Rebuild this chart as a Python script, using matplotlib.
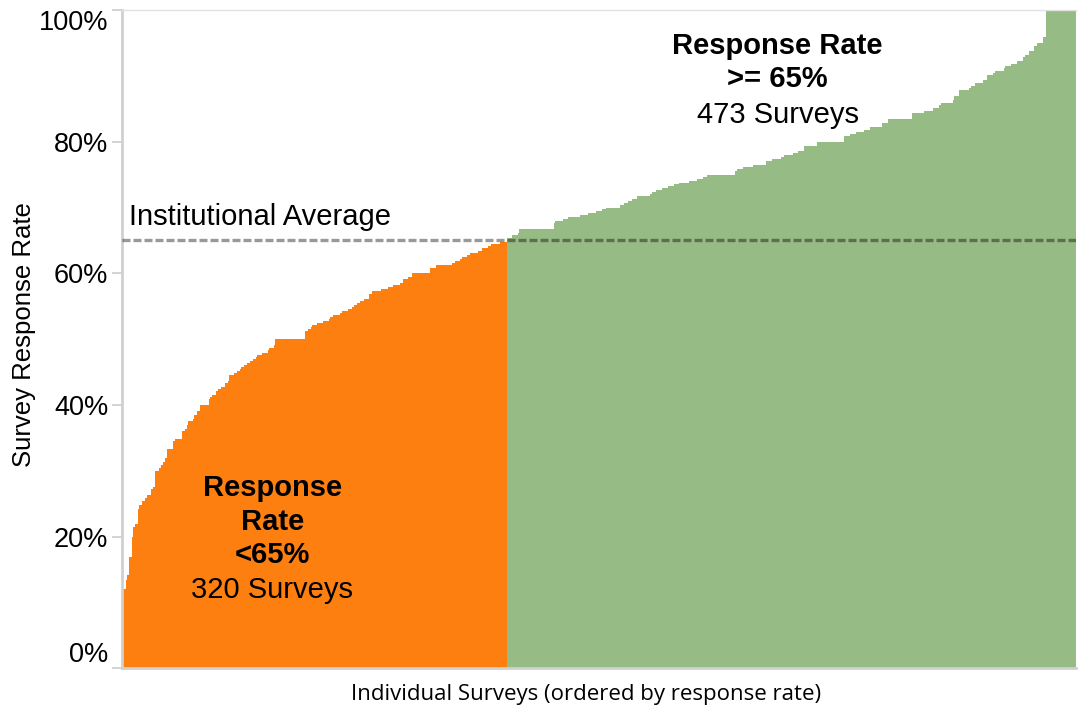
import numpy as np
import matplotlib
matplotlib.use("Agg")
import matplotlib.pyplot as plt

plt.rcParams['font.family'] = ['Liberation Sans', 'DejaVu Sans']

# sorted survey response rates as (rate %, number of surveys)
low_rates = [12.0, 13.4, 14.2, 17.0, 20.0, 21.5, 22.0, 24.2, 24.8, 25.5,
             25.9, 26.4, 27.3, 27.6, 30.0, 30.5, 30.9, 31.3, 32.0, 33.3,
             34.6, 34.9, 36.1, 36.4, 37.0, 37.6, 37.9, 38.5, 39.1, 40.0,
             40.9, 41.3, 41.6, 42.2, 42.5, 42.8, 43.4, 43.7, 44.6, 44.9,
             45.2, 45.5, 45.8, 46.1, 46.4, 46.7, 47.0, 47.3, 47.6, 47.9,
             48.3, 48.6, 49.2, 50.0, 51.3, 51.6, 51.9, 52.2, 52.5, 52.8,
             53.1, 53.4, 53.7, 54.0, 54.3, 54.6, 54.9, 55.2, 55.5, 55.8,
             56.1, 56.8, 57.4, 57.7, 58.0, 58.3, 58.6, 59.2, 59.5, 60.0,
             60.8, 61.2, 61.6, 61.9, 62.2, 62.5, 62.8, 63.1, 63.4, 63.8,
             64.1, 64.4, 64.7]
low_counts = [3, 1, 2, 2, 1, 2, 2, 1, 3, 2,
              2, 3, 2, 1, 4, 1, 2, 2, 1, 5,
              2, 6, 2, 2, 1, 4, 1, 2, 3, 7,
              1, 2, 3, 2, 2, 4, 2, 1, 4, 3,
              2, 1, 2, 3, 2, 3, 2, 1, 4, 5,
              1, 4, 1, 25, 3, 2, 1, 4, 5, 5,
              1, 2, 6, 2, 5, 3, 2, 2, 3, 3,
              4, 3, 7, 6, 4, 6, 3, 4, 3, 15,
              5, 13, 3, 4, 2, 4, 2, 7, 3, 5,
              3, 7, 6]

high_rates = [65.3, 65.8, 66.2, 66.7, 67.7, 68.0, 68.3, 68.6, 68.9, 69.2,
              69.5, 69.8, 70.0, 70.4, 70.7, 71.0, 71.3, 71.7, 72.0, 72.3,
              72.6, 72.9, 73.2, 73.5, 73.8, 74.1, 74.4, 74.7, 75.0, 75.6,
              75.9, 76.2, 76.5, 77.1, 77.4, 77.7, 78.0, 78.3, 78.6, 79.3,
              80.0, 80.8, 81.1, 81.4, 81.8, 82.3, 82.9, 83.5, 84.4, 84.7,
              85.1, 85.6, 85.9, 86.4, 87.0, 87.8, 88.2, 88.5, 88.9, 89.3,
              90.1, 90.4, 90.8, 91.2, 91.5, 91.8, 92.2, 92.8, 93.2, 93.7,
              94.6, 95.0, 95.9, 100.0]
high_counts = [4, 5, 1, 29, 1, 7, 4, 10, 6, 7,
               5, 3, 12, 3, 4, 3, 4, 11, 2, 3,
               5, 5, 5, 4, 8, 7, 5, 3, 24, 1,
               5, 9, 10, 5, 8, 2, 8, 4, 5, 11,
               22, 5, 5, 7, 5, 10, 5, 20, 10, 7,
               5, 2, 10, 1, 4, 8, 2, 3, 7, 3,
               5, 2, 7, 1, 5, 5, 5, 2, 3, 4,
               3, 5, 2, 25]

institutional_avg = 65
tick_vals = [0, 20, 40, 60, 80, 100]
tick_labels = ["0%", "20%", "40%", "60%", "80%", "100%"]

low = np.repeat(low_rates, low_counts)
high = np.repeat(high_rates, high_counts)
n_low, n_high = len(low), len(high)

fig = plt.figure(figsize=(10.78, 7.12), dpi=100)
ax = fig.add_axes([0.1132, 0.0611, 0.8848, 0.9249])

ax.bar(np.arange(n_low), low, width=1.0, align='edge', color='#FD7F0F', linewidth=0)
ax.bar(np.arange(n_low, n_low + n_high), high, width=1.0, align='edge',
       color='#97BB85', linewidth=0)

ax.axhline(institutional_avg, color='black', alpha=0.4, linewidth=2.4,
           dashes=(2.4, 0.9), zorder=3)
ax.text(6, institutional_avg + 1.5, "Institutional Average", fontsize=21,
        ha='left', va='bottom')

# annotation blocks
ax.text(125, 22.3, "Response\nRate\n<65%", fontsize=21, fontweight='bold',
        ha='center', va='center', linespacing=1.25)
ax.text(125, 11.9, f"{n_low} Surveys", fontsize=21, ha='center', va='center')

ax.text(545, 92.0, "Response Rate\n>= 65%", fontsize=21,
        fontweight='bold', ha='center', va='center', linespacing=1.25)
ax.text(545, 84.0, f"{n_high} Surveys", fontsize=21, ha='center', va='center')

ax.set_xlim(0, n_low + n_high)
ax.set_ylim(0, 100)
ax.set_xticks([])
ax.set_yticks(tick_vals)
ax.set_yticklabels(tick_labels, fontsize=19.5)
ax.tick_params(axis='y', length=7, width=1.2, color='#cccccc', pad=3)
ax.get_yticklabels()[0].set_va('bottom')
ax.get_yticklabels()[-1].set_va('top')

for side in ['left', 'bottom']:
    ax.spines[side].set_color('#d0d0d0')
    ax.spines[side].set_linewidth(2)
ax.spines['top'].set_color('#e2e2e2')
ax.spines['top'].set_linewidth(1)
ax.spines['right'].set_visible(False)

fig.text(0.022, 0.53, "Survey Response Rate", fontsize=18.5, rotation=90,
         ha='center', va='center')
fig.text(0.544, 0.024, "Individual Surveys (ordered by response rate)",
         fontsize=16, family=['Open Sans', 'DejaVu Sans'], ha='center', va='center')

fig.savefig("out.png", dpi=100)
